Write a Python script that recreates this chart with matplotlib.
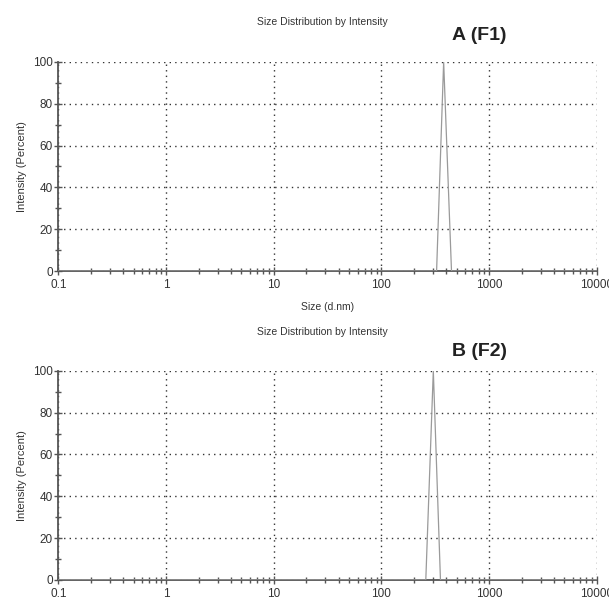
import matplotlib
matplotlib.use("Agg")
import matplotlib.pyplot as plt
import numpy as np
from matplotlib.ticker import LogLocator, FixedLocator, NullFormatter

plt.rcParams['font.family'] = ['Liberation Sans', 'DejaVu Sans']

# size (d.nm) and intensity (%)
size_a = [0.1, 325, 378, 447, 10000]
int_a = [0, 0, 100, 0, 0]
size_b = [0.1, 258, 303, 353, 10000]
int_b = [0, 0, 100, 0, 0]

xticks = [0.1, 1, 10, 100, 1000, 10000]
xticklabels = ['0.1', '1', '10', '100', '1000', '10000']
yticks = [0, 20, 40, 60, 80, 100]

fig = plt.figure(figsize=(6.09, 6.01), dpi=100)
ax1 = fig.add_axes([0.096, 0.549, 0.884, 0.348])
ax2 = fig.add_axes([0.096, 0.035, 0.884, 0.348])

panels = [(ax1, size_a, int_a, 'A (F1)', 22, 35), (ax2, size_b, int_b, 'B (F2)', 332, 352)]
for ax, xs, ys, tag, ty, gy in panels:
    ax.plot(xs, ys, color='#9a9a9a', lw=0.9, zorder=3)
    ax.set_xscale('log')
    ax.set_xlim(0.1, 10000)
    ax.set_ylim(0, 100)
    ax.set_xticks(xticks)
    ax.set_xticklabels(xticklabels)
    ax.xaxis.set_minor_locator(LogLocator(base=10, subs=np.arange(2, 10)))
    ax.xaxis.set_minor_formatter(NullFormatter())
    ax.set_yticks(yticks)
    ax.yaxis.set_minor_locator(FixedLocator([10, 30, 50, 70, 90]))
    ax.grid(True, which='major', color='#333333', linestyle=(0, (1, 3)), lw=1.0)
    for s in ['top', 'right']:
        ax.spines[s].set_visible(False)
    for s in ['left', 'bottom']:
        ax.spines[s].set_color('#555555')
        ax.spines[s].set_linewidth(1.3)
    ax.tick_params(which='both', direction='inout', color='#555555', labelsize=8.5,
                   labelcolor='#333333', width=1.0)
    ax.tick_params(which='major', length=6)
    ax.tick_params(which='minor', length=4)
    ax.tick_params(axis='x', pad=3)
    ax.tick_params(axis='y', pad=1)
    ax.set_ylabel('Intensity (Percent)', fontsize=8, color='#333333', labelpad=4)
    fig.text(322 / 609, 1 - ty / 601, 'Size Distribution by Intensity', fontsize=7.5,
             color='#333333', ha='center', va='center')
    fig.text(479 / 609, 1 - gy / 601, tag, fontsize=14, fontweight='bold',
             color='#222222', ha='center', va='center')

ax1.set_xlabel('Size (d.nm)', fontsize=7.5, color='#333333', labelpad=8)

fig.savefig('out.png', dpi=100)
